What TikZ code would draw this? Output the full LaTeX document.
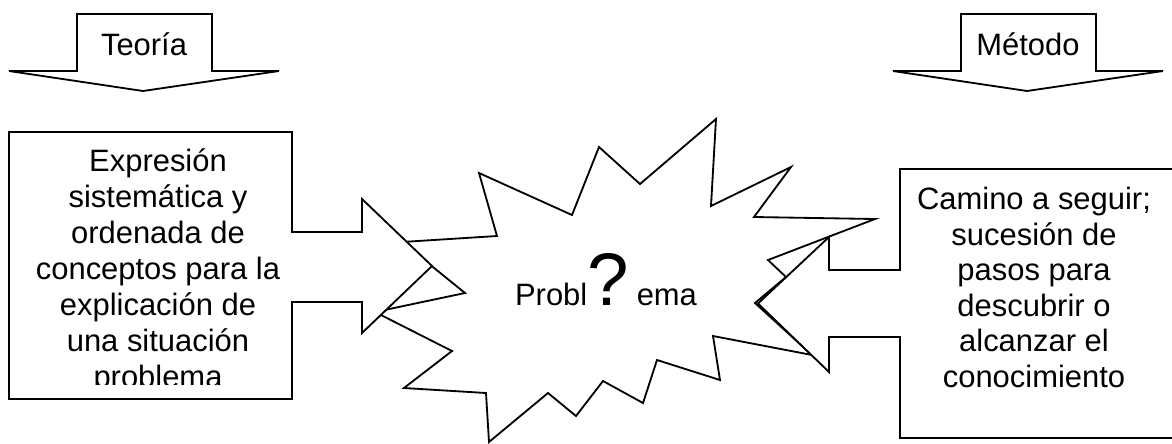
\documentclass[tikz,border=0pt]{standalone}
\usepackage{fontspec}
\setmainfont{Liberation Sans}
\usetikzlibrary{positioning}
\newcommand{\bigq}{\fontsize{53pt}{53pt}\selectfont}

\begin{document}
\begin{tikzpicture}[x=0.025cm, y=-0.025cm,
  shapeline/.style={draw, line width=1.3pt, fill=white, line join=miter},
  labeltxt/.style={inner sep=0pt, align=center, font=\fontsize{22pt}{25.3pt}\selectfont, anchor=base}
]
\useasboundingbox (0,0) rectangle (1172,443);
\clip (0,0) rectangle (1172,443);

\draw[shapeline] (402,242) -- (497,236) -- (479,173) -- (572,215) -- (599,147) -- (640,184)
  -- (716,119) -- (711,206) -- (791,167) -- (754,217) -- (875,219) -- (768,260)
  -- (786,277) -- (755,303) -- (812,355) -- (713,336) -- (720,380) -- (657,360)
  -- (643,403) -- (603,381) -- (576,416) -- (548,393) -- (489,442) -- (486,393)
  -- (404,388) -- (452,351) -- (375,312) -- (465,293) -- cycle;

\draw[shapeline] (77,14) -- (212,14) -- (212,71) -- (279,71) -- (143,91) -- (9,71) -- (77,71) -- cycle;
\draw[shapeline] (961,14) -- (1096,14) -- (1096,71) -- (1163,71) -- (1027,91) -- (893,71) -- (961,71) -- cycle;

\draw[shapeline] (9,132) -- (292,132) -- (292,232) -- (362,232) -- (362,199) -- (432,266)
  -- (362,333) -- (362,302) -- (292,302) -- (292,399) -- (9,399) -- cycle;
\draw[shapeline] (1180,169) -- (900,169) -- (900,270) -- (829,270) -- (829,237) -- (758,303.5)
  -- (829,372) -- (829,337) -- (900,337) -- (900,438) -- (1180,438) -- cycle;

\node[labeltxt] (teoria) at (144,55) {Teoría};
\node[labeltxt] (metodo) at (1028,55) {Método};
\node[labeltxt] (problema) at (606,305) {Probl{\bigq ?}\hspace{0.2cm}ema};
\begin{scope}
  \clip (9,132) rectangle (292,384);
  \node[labeltxt, font=\fontsize{22pt}{25.5pt}\selectfont] (teoriabox) at (158,387) {Expresión\\sistemática y\\ordenada de\\conceptos para la\\explicación de\\una situación\\problema};
\end{scope}
\node[labeltxt] (metodobox) at (1034,387.5) {Camino a seguir;\\sucesión de\\pasos para\\descubrir o\\alcanzar el\\conocimiento};
\end{tikzpicture}
\end{document}
